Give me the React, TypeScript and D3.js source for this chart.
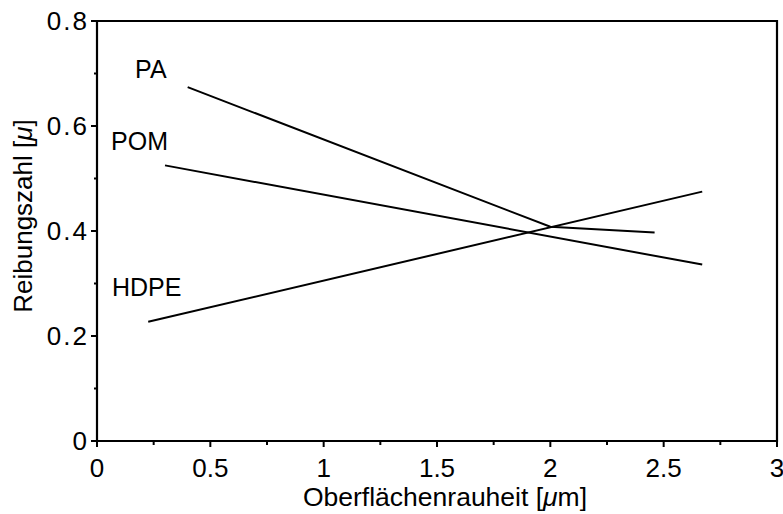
import React from "react";
import * as d3 from "d3";

const seriesNames = ["PA", "POM", "HDPE"];
const paX = [0.4, 2.0, 2.46];
const paY = [0.674, 0.408, 0.397];
const pomX = [0.3, 2.67];
const pomY = [0.525, 0.336];
const hdpeX = [0.226, 2.67];
const hdpeY = [0.227, 0.475];
const labelX = [0.168, 0.062, 0.066];
const labelY = [0.691, 0.554, 0.276];
const xTicks = [0, 0.5, 1, 1.5, 2, 2.5, 3];
const xTickLabels = ["0", "0.5", "1", "1.5", "2", "2.5", "3"];
const xMinor = [0.25, 0.75, 1.25, 1.75, 2.25, 2.75];
const yTicks = [0, 0.2, 0.4, 0.6, 0.8];
const yTickLabels = ["0", "0.2", "0.4", "0.6", "0.8"];
const yMinor = [0.1, 0.3, 0.5, 0.7];
const xTitleParts = ["Oberflächenrauheit [", "μ", "m]"];
const yTitleParts = ["Reibungszahl [", "μ", "]"];

const W = 783;
const H = 514;
const left = 97;
const right = 777;
const top = 21;
const bottom = 441;
const font = "'Liberation Sans', Arial, Helvetica, sans-serif";

export default function App() {
  const x = d3.scaleLinear().domain([0, 3]).range([left, right]);
  const y = d3.scaleLinear().domain([0, 0.8]).range([bottom, top]);
  const line = d3
    .line<[number, number]>()
    .x((d) => x(d[0]))
    .y((d) => y(d[1]));
  const series = [
    paX.map((v, i) => [v, paY[i]] as [number, number]),
    pomX.map((v, i) => [v, pomY[i]] as [number, number]),
    hdpeX.map((v, i) => [v, hdpeY[i]] as [number, number]),
  ];
  return (
    <svg
      width={W}
      height={H}
      style={{ position: "absolute", left: 0, top: 0, background: "#fff" }}
      fontFamily={font}
    >
      <rect x={0} y={0} width={W} height={H} fill="#fff" />
      <path
        d={`M${x(0)},${y(0)}V${y(0.8)}H${x(3)}V${y(0)}Z`}
        fill="none"
        stroke="#000"
        strokeWidth={2.2}
      />
      {xTicks.map((t, i) => (
        <g key={"xt" + i}>
          <line x1={x(t)} x2={x(t)} y1={y(0)} y2={y(0) + 6} stroke="#000" strokeWidth={2} />
          <text x={x(t)} y={y(0) + 36} textAnchor="middle" fontSize={26}>
            {xTickLabels[i]}
          </text>
        </g>
      ))}
      {xMinor.map((t, i) => (
        <line key={"xm" + i} x1={x(t)} x2={x(t)} y1={y(0)} y2={y(0) + 4} stroke="#000" strokeWidth={2} />
      ))}
      {yTicks.map((t, i) => (
        <g key={"yt" + i}>
          <line x1={x(0) - 6} x2={x(0)} y1={y(t)} y2={y(t)} stroke="#000" strokeWidth={2} />
          <text x={x(0) - 8} y={y(t) + 9} textAnchor="end" fontSize={26} letterSpacing={2}>
            {yTickLabels[i]}
          </text>
        </g>
      ))}
      {yMinor.map((t, i) => (
        <line key={"ym" + i} x1={x(0) - 3} x2={x(0)} y1={y(t)} y2={y(t)} stroke="#000" strokeWidth={2} />
      ))}
      {series.map((s, i) => (
        <path key={"s" + i} d={line(s) || ""} fill="none" stroke="#000" strokeWidth={2} />
      ))}
      {seriesNames.map((n, i) => (
        <text key={"l" + i} x={x(labelX[i])} y={y(labelY[i])} fontSize={25}>
          {n}
        </text>
      ))}
      <text x={445} y={506} textAnchor="middle" fontSize={26.5}>
        {xTitleParts[0]}
        <tspan fontStyle="italic">{xTitleParts[1]}</tspan>
        {xTitleParts[2]}
      </text>
      <text transform={`translate(32,216) rotate(-90)`} textAnchor="middle" fontSize={26}>
        {yTitleParts[0]}
        <tspan fontStyle="italic">{yTitleParts[1]}</tspan>
        {yTitleParts[2]}
      </text>
    </svg>
  );
}
